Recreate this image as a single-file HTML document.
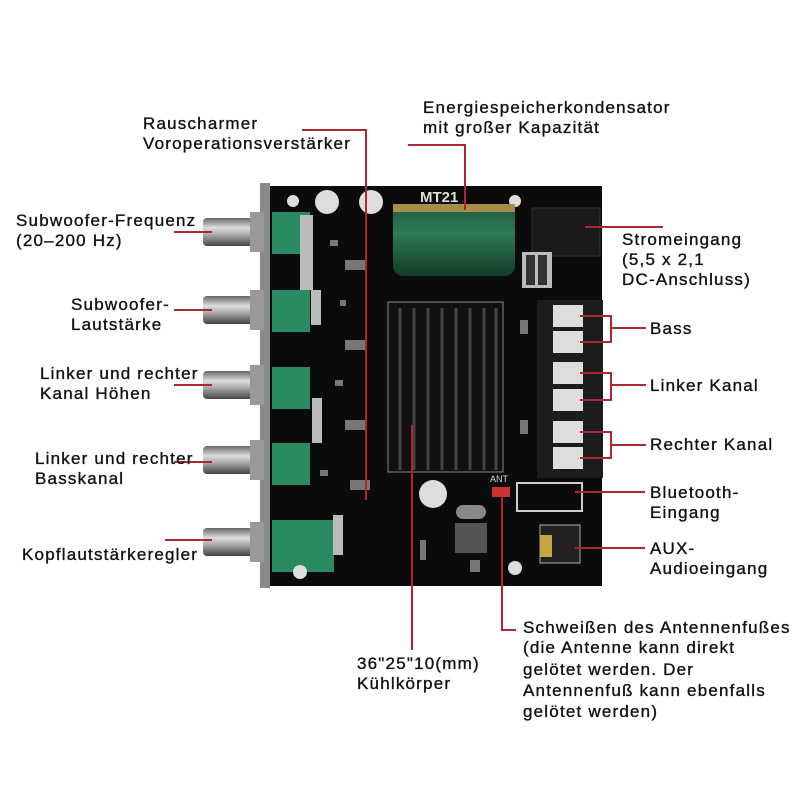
<!DOCTYPE html>
<html><head><meta charset="utf-8"><style>
html,body{margin:0;padding:0;background:#fff}
svg{display:block}
text{font-family:"Liberation Sans",sans-serif;font-size:17px;fill:#111;letter-spacing:1.2px;stroke:#111;stroke-width:0.35px}
</style></head><body>
<svg width="800" height="800" viewBox="0 0 800 800">
<defs>
<linearGradient id="kn" x1="0" y1="0" x2="0" y2="1">
<stop offset="0" stop-color="#666"/><stop offset="0.35" stop-color="#ddd"/><stop offset="0.6" stop-color="#aaa"/><stop offset="1" stop-color="#444"/>
</linearGradient>
<linearGradient id="cap" x1="0" y1="0" x2="0" y2="1">
<stop offset="0" stop-color="#1d5a3e"/><stop offset="0.4" stop-color="#2f7a55"/><stop offset="1" stop-color="#143c28"/>
</linearGradient>
</defs>
<rect x="268" y="186" width="334" height="400" fill="#0b0b0b"/>
<rect x="260" y="183" width="10" height="405" fill="#8a8a8a"/>
<g fill="#2a8a62">
<rect x="272" y="212" width="38" height="42"/>
<rect x="272" y="290" width="38" height="42"/>
<rect x="272" y="367" width="38" height="42"/>
<rect x="272" y="443" width="38" height="42"/>
<rect x="272" y="520" width="62" height="52"/>
</g>
<rect x="300" y="215" width="13" height="75" fill="#bbb"/>
<rect x="311" y="290" width="10" height="35" fill="#bbb"/>
<rect x="312" y="398" width="10" height="45" fill="#bbb"/>
<rect x="333" y="515" width="10" height="40" fill="#bbb"/>
<g fill="#777">
<rect x="330" y="240" width="8" height="6"/><rect x="345" y="260" width="20" height="10"/><rect x="340" y="300" width="6" height="6"/><rect x="345" y="340" width="20" height="10"/><rect x="335" y="380" width="8" height="6"/><rect x="345" y="420" width="20" height="10"/><rect x="350" y="480" width="20" height="10"/><rect x="320" y="470" width="8" height="6"/><rect x="520" y="320" width="8" height="14"/><rect x="520" y="420" width="8" height="14"/><rect x="420" y="540" width="6" height="20"/><rect x="470" y="560" width="10" height="12"/>
</g>
<g>
<rect x="203" y="218" width="50" height="28" rx="4" fill="url(#kn)"/><rect x="250" y="212" width="14" height="40" fill="#999"/>
<rect x="203" y="296" width="50" height="28" rx="4" fill="url(#kn)"/><rect x="250" y="290" width="14" height="40" fill="#999"/>
<rect x="203" y="371" width="50" height="28" rx="4" fill="url(#kn)"/><rect x="250" y="365" width="14" height="40" fill="#999"/>
<rect x="203" y="446" width="50" height="28" rx="4" fill="url(#kn)"/><rect x="250" y="440" width="14" height="40" fill="#999"/>
<rect x="203" y="528" width="50" height="28" rx="4" fill="url(#kn)"/><rect x="250" y="522" width="14" height="40" fill="#999"/>
</g>
<circle cx="327" cy="202" r="12" fill="#ddd"/><circle cx="371" cy="202" r="12" fill="#ddd"/>
<circle cx="293" cy="201" r="6" fill="#ddd"/><circle cx="515" cy="201" r="6" fill="#ddd"/>
<circle cx="515" cy="568" r="7" fill="#ddd"/><circle cx="300" cy="572" r="7" fill="#ddd"/>
<rect x="393" y="204" width="122" height="72" rx="10" fill="url(#cap)"/>
<rect x="393" y="204" width="122" height="8" fill="#a88c4a"/>
<text x="420" y="202" style="font-size:15px;font-weight:bold;fill:#ddd;stroke:none;letter-spacing:0">MT21</text>
<rect x="532" y="208" width="68" height="48" fill="#1a1a1a" stroke="#333"/>
<rect x="522" y="252" width="30" height="36" fill="#bbb"/><rect x="526" y="255" width="9" height="30" fill="#333"/><rect x="538" y="255" width="9" height="30" fill="#333"/>
<rect x="388" y="302" width="115" height="170" fill="#111" stroke="#888" stroke-width="1"/>
<g stroke="#444" stroke-width="3">
<line x1="400" y1="308" x2="400" y2="470"/><line x1="414" y1="308" x2="414" y2="470"/><line x1="428" y1="308" x2="428" y2="470"/><line x1="442" y1="308" x2="442" y2="470"/><line x1="456" y1="308" x2="456" y2="470"/><line x1="470" y1="308" x2="470" y2="470"/><line x1="484" y1="308" x2="484" y2="470"/><line x1="496" y1="308" x2="496" y2="470"/>
</g>
<rect x="537" y="300" width="66" height="178" fill="#1c1c1c"/>
<g fill="#ddd">
<rect x="553" y="305" width="30" height="22"/><rect x="553" y="331" width="30" height="22"/>
<rect x="553" y="362" width="30" height="22"/><rect x="553" y="389" width="30" height="22"/>
<rect x="553" y="421" width="30" height="22"/><rect x="553" y="447" width="30" height="22"/>
</g>
<circle cx="433" cy="494" r="14" fill="#ddd"/>
<rect x="456" y="505" width="30" height="14" rx="7" fill="#888"/>
<rect x="455" y="523" width="32" height="30" fill="#555"/>
<rect x="517" y="483" width="65" height="28" fill="none" stroke="#ccc" stroke-width="2"/>
<rect x="492" y="487" width="18" height="10" fill="#c33"/>
<rect x="540" y="525" width="40" height="38" fill="#222" stroke="#aaa"/><rect x="540" y="535" width="12" height="22" fill="#c9a443"/>
<text x="490" y="482" style="font-size:9px;fill:#ddd;stroke:none;letter-spacing:0">ANT</text>
<g stroke="#b0262f" stroke-width="2" fill="none">
<polyline points="302,130 366,130 366,500"/>
<polyline points="408,145 465,145 465,210"/>
<line x1="174" y1="232" x2="212" y2="232"/>
<line x1="174" y1="310" x2="212" y2="310"/>
<line x1="174" y1="385" x2="212" y2="385"/>
<line x1="174" y1="462" x2="212" y2="462"/>
<line x1="165" y1="540" x2="212" y2="540"/>
<line x1="585" y1="227" x2="663" y2="227"/>
<polyline points="580,316 611,316 611,342 580,342"/><line x1="611" y1="328" x2="646" y2="328"/>
<polyline points="580,373 611,373 611,400 580,400"/><line x1="611" y1="385" x2="646" y2="385"/>
<polyline points="580,432 611,432 611,458 580,458"/><line x1="611" y1="445" x2="646" y2="445"/>
<line x1="575" y1="492" x2="645" y2="492"/>
<line x1="575" y1="548" x2="645" y2="548"/>
<line x1="412" y1="425" x2="412" y2="650"/>
<polyline points="502,495 502,630 516,630"/>
</g>
<text x="143" y="129">Rauscharmer</text>
<text x="143" y="149">Voroperationsverstärker</text>
<text x="423" y="113">Energiespeicherkondensator</text>
<text x="423" y="133">mit großer Kapazität</text>
<text x="16" y="226">Subwoofer-Frequenz</text>
<text x="16" y="246">(20–200 Hz)</text>
<text x="71" y="310">Subwoofer-</text>
<text x="71" y="330">Lautstärke</text>
<text x="40" y="379">Linker und rechter</text>
<text x="40" y="399">Kanal Höhen</text>
<text x="35" y="464">Linker und rechter</text>
<text x="35" y="484">Basskanal</text>
<text x="22" y="560">Kopflautstärkeregler</text>
<text x="622" y="245">Stromeingang</text>
<text x="622" y="265">(5,5 x 2,1</text>
<text x="622" y="285">DC-Anschluss)</text>
<text x="650" y="334">Bass</text>
<text x="650" y="391">Linker Kanal</text>
<text x="650" y="450">Rechter Kanal</text>
<text x="650" y="498">Bluetooth-</text>
<text x="650" y="518">Eingang</text>
<text x="650" y="554">AUX-</text>
<text x="650" y="574">Audioeingang</text>
<text x="523" y="633">Schweißen des Antennenfußes</text>
<text x="523" y="653">(die Antenne kann direkt</text>
<text x="523" y="675">gelötet werden. Der</text>
<text x="523" y="696">Antennenfuß kann ebenfalls</text>
<text x="523" y="717">gelötet werden)</text>
<text x="357" y="669">36"25"10(mm)</text>
<text x="357" y="689">Kühlkörper</text>
</svg>
</body></html>
